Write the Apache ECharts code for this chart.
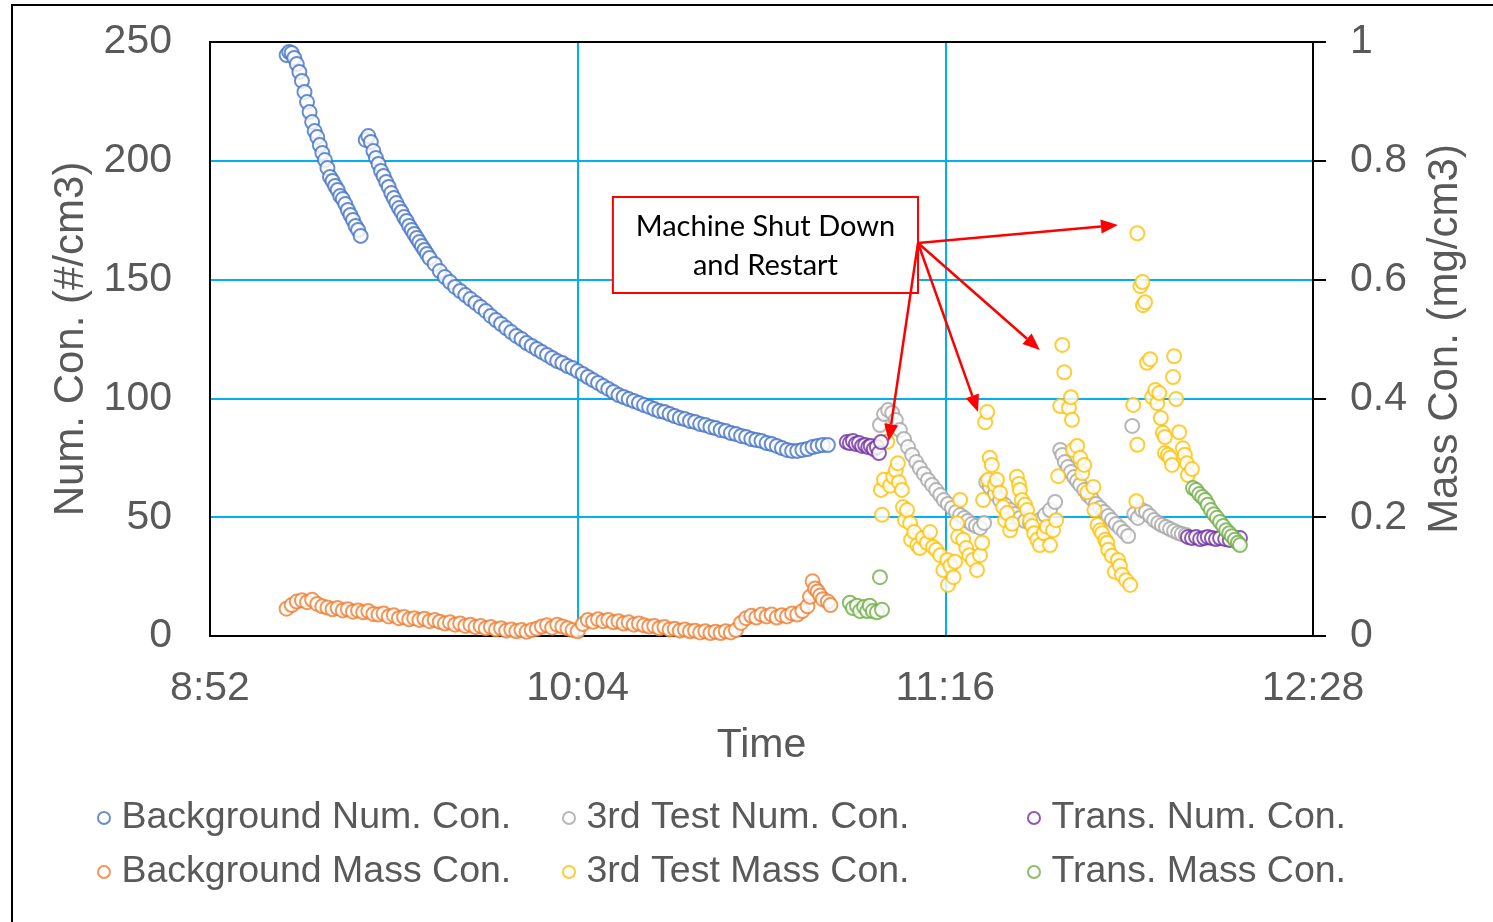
<!DOCTYPE html>
<html><head><meta charset="utf-8">
<script src="https://cdn.jsdelivr.net/npm/echarts@6/dist/echarts.min.js"></script>
<style>html,body{margin:0;padding:0;background:#fff}#c{width:1493px;height:922px}</style>
</head><body><div id="c"></div>
<script>
// time values are minutes after midnight
const X_MIN = 532, X_MAX = 748, X_STEP = 72;   // 8:52 .. 12:28
const LEFT_MAX = 250, LEFT_STEP = 50;
const RIGHT_MAX = 1, RIGHT_STEP = 0.2;

const names = ['Background Num. Con.','Background Mass Con.','3rd Test Num. Con.','3rd Test Mass Con.','Trans. Num. Con.','Trans. Mass Con.'];
const colors = ['#4472C4','#ED7D31','#A5A5A5','#FFC000','#7030A0','#70AD47'];

const bgNum = [
[547,244.5],[547.5,245.8],[548,245.4],[548.5,243.3],[549,240.7],[549.5,237.4],[550,233.6],[550.5,229.0],[551,224.7],[551.5,220.5],
[552,216.3],[552.5,212.5],[553,210.0],[553.5,206.6],[554,203.3],[554.5,200.3],[555,197.0],[555.5,193.2],[556,191.5],[556.5,189.4],
[557,187.7],[557.5,185.2],[558,183.9],[558.5,181.8],[559,179.3],[559.5,177.2],[560,175.1],[560.5,172.6],[561,170.9],[561.5,168.4],
[562.5,208.8],[563,210.4],[563.5,207.9],[564,204.1],[564.5,201.2],[565,198.7],[565.5,195.7],[566,193.6],[566.5,191.1],[567,189.0],
[567.5,186.4],[568,184.3],[568.5,182.2],[569,180.1],[569.5,178.5],[570,176.3],[570.5,174.7],[571,172.6],[571.5,170.9],[572,169.2],
[572.5,167.5],[573,165.8],[573.5,164.1],[574,162.5],[574.5,160.8],[575,159.1],[576,156.6],[577,153.6],[578,151.1],[579,149.0],
[580,146.9],[581,145.2],[582,143.5],[583,141.8],[584,140.2],[585,138.5],[586,136.8],[587,134.7],[588,133.0],[589,131.3],
[590,129.6],[591,127.9],[592,126.3],[593,125.0],[594,123.3],[595,122.1],[596,120.8],[597,119.5],[598,118.3],[599,117.0],
[600,115.7],[601,114.9],[602,113.6],[603,112.8],[604,111.5],[605,110.3],[606,109.0],[607,107.7],[608,106.5],[609,105.2],
[610,104.0],[611,102.7],[612,101.4],[613,100.6],[614,99.7],[615,98.9],[616,98.1],[617,97.2],[618,96.4],[619,95.5],
[620,94.7],[621,94.3],[622,93.4],[623,92.6],[624,91.8],[625,91.3],[626,90.5],[627,90.1],[628,89.2],[629,88.8],
[630,88.0],[631,87.5],[632,86.7],[633,86.3],[634,85.4],[635,85.0],[636,84.2],[637,83.8],[638,82.9],[639,82.5],
[640,82.1],[641,81.2],[642,80.8],[643,80.0],[644,79.1],[645,78.3],[646,77.9],[647,77.9],[648,78.3],[649,78.7],
[650,79.5],[651,80.0],[652,80.4],[653,80.4]
];

const bgMass = [
[547,0.046],[548,0.052],[549,0.058],[550,0.060],[551,0.057],[552,0.061],[553,0.054],[554,0.050],[555,0.048],[556,0.045],
[557,0.047],[558,0.043],[559,0.045],[560,0.041],[561,0.043],[562,0.040],[563,0.042],[564,0.037],[565,0.036],[566,0.038],
[567,0.033],[568,0.035],[569,0.030],[570,0.032],[571,0.028],[572,0.030],[573,0.027],[574,0.029],[575,0.025],[576,0.027],
[577,0.024],[578,0.021],[579,0.023],[580,0.019],[581,0.021],[582,0.017],[583,0.019],[584,0.015],[585,0.017],[586,0.013],
[587,0.015],[588,0.011],[589,0.013],[590,0.009],[591,0.011],[592,0.008],[593,0.010],[594,0.007],[595,0.010],[596,0.012],
[597,0.016],[598,0.018],[599,0.014],[600,0.019],[601,0.016],[602,0.013],[603,0.010],[604,0.008],[605,0.020],[606,0.027],
[607,0.024],[608,0.028],[609,0.025],[610,0.027],[611,0.023],[612,0.025],[613,0.021],[614,0.023],[615,0.019],[616,0.021],
[617,0.018],[618,0.016],[619,0.017],[620,0.013],[621,0.015],[622,0.011],[623,0.012],[624,0.009],[625,0.011],[626,0.008],
[627,0.009],[628,0.006],[629,0.008],[630,0.005],[631,0.007],[632,0.005],[633,0.008],[634,0.006],[635,0.010],[636,0.022],
[637,0.030],[638,0.034],[639,0.031],[640,0.036],[641,0.033],[642,0.036],[643,0.031],[644,0.035],[645,0.033],[646,0.038],
[647,0.036],[648,0.042],[649,0.050],[649.5,0.066],[650,0.092],[650.5,0.080],[651,0.075],[651.5,0.068],[652,0.062],[653,0.058],[653.5,0.052]
];

const testNum = [
[663.2,88.8],[664.0,93.4],[664.8,95.1],[665.6,93.9],[666.3,90.9],[667.1,86.7],[667.9,82.9],[668.7,79.5],[669.5,76.2],[670.3,73.2],
[671.0,70.7],[671.8,68.2],[672.6,65.7],[673.4,63.6],[674.2,61.4],[675.0,59.3],[675.7,57.2],[676.5,55.6],[677.3,53.9],[678.1,52.2],
[678.9,50.9],[679.7,49.7],[680.4,48.4],[681.2,47.1],[682.0,46.3],[682.8,45.5],[683.6,47.6],
[684.0,64.8],[684.7,62.7],[685.7,59.8],[686.7,57.2],[687.7,55.1],[688.7,53.0],[689.6,51.3],[690.6,49.7],[691.6,48.4],[692.6,47.6],
[693.6,47.6],[694.5,48.8],[695.5,50.9],[696.5,53.0],[697.5,56.4],
[698.5,78.3],[698.9,76.2],[699.4,73.2],[700.0,71.1],[700.6,69.0],[701.2,66.9],[701.8,65.2],[702.4,63.6],[703.2,61.4],[703.9,59.3],
[704.7,57.7],[705.5,55.6],[706.3,53.9],[707.1,52.2],[707.9,50.5],[708.6,48.8],[709.4,47.1],[710.2,45.5],[711.0,43.8],[711.8,42.1],
[712.6,88.4],[713.0,51.3],[713.7,49.7],[714.5,53.0],[715.3,52.2],[716.1,50.5],[716.9,48.8],[717.7,47.6],[718.4,46.7],[719.2,45.9],
[720.0,45.0],[720.8,44.2],[721.6,43.4],[722.3,42.9],[723.1,42.5]
];

const testMass = [
[663.4,0.246],[663.6,0.204],[664.0,0.263],[664.6,0.327],[665.2,0.253],[665.8,0.268],[666.3,0.279],[666.7,0.291],[666.9,0.259],[667.5,0.246],
[667.7,0.217],[668.1,0.195],[668.5,0.212],[669.1,0.190],[669.3,0.162],[669.9,0.175],[670.5,0.153],[671.0,0.148],[671.6,0.165],[672.4,0.157],
[673.0,0.175],[673.6,0.150],[674.2,0.145],[675.0,0.136],[675.6,0.111],[676.4,0.128],[676.5,0.086],[677.0,0.118],[677.6,0.099],[677.9,0.125],
[678.3,0.190],[678.5,0.167],[678.9,0.229],[679.5,0.162],[680.1,0.148],[680.7,0.136],[681.4,0.128],[682.2,0.111],[682.8,0.136],[683.2,0.157],
[683.4,0.229],[683.8,0.360],[684.2,0.377],[684.4,0.263],[684.7,0.300],[685.1,0.288],[685.7,0.254],[686.1,0.263],[686.7,0.241],[687.3,0.217],
[687.7,0.195],[688.1,0.207],[688.7,0.178],[689.1,0.189],[690.0,0.268],[690.4,0.256],[690.6,0.246],[691.0,0.229],[691.6,0.221],[692.0,0.212],
[692.6,0.195],[693.0,0.185],[693.4,0.173],[694.0,0.162],[694.5,0.153],[695.3,0.173],[695.9,0.184],[696.5,0.153],[697.1,0.178],[697.7,0.195],
[698.1,0.269],[698.5,0.387],[698.9,0.490],[699.3,0.444],[700.2,0.384],[700.6,0.402],[700.8,0.364],[701.0,0.313],[701.8,0.320],[702.4,0.300],
[702.8,0.274],[703.2,0.288],[703.8,0.242],[705.0,0.251],[705.2,0.212],[705.8,0.187],[706.3,0.178],[706.7,0.173],[707.3,0.162],[707.7,0.157],
[707.9,0.145],[708.6,0.135],[709.2,0.108],[709.8,0.128],[710.2,0.118],[710.6,0.103],[711.4,0.094],[712.2,0.086],[712.8,0.389],[713.4,0.227],
[713.6,0.322],[713.6,0.678],[714.2,0.589],[714.6,0.596],[714.7,0.557],[715.1,0.562],[715.5,0.460],[716.1,0.466],[716.5,0.402],[717.1,0.414],
[717.5,0.392],[717.9,0.409],[718.2,0.367],[718.6,0.342],[719.0,0.335],[719.0,0.308],[719.6,0.305],[720.0,0.300],[720.4,0.288],[720.6,0.436],
[720.8,0.471],[721.2,0.399],[721.8,0.343],[722.5,0.316],[722.9,0.305],[723.3,0.291],[723.5,0.271],[724.3,0.281]
];

const transNum = [
[656.7,81.6],[657.3,81.2],[657.9,82.1],[658.5,80.8],[659.1,81.2],[659.7,80.0],[660.3,80.4],[660.9,79.5],[661.4,80.0],[662.0,78.7],
[662.6,79.5],[663.0,77.0],[663.4,81.6],
[723.5,41.7],[724.3,41.2],[725.1,41.7],[725.9,40.8],[726.7,41.2],[727.4,41.7],[728.2,41.2],[729.0,40.8],[729.8,41.2],[730.8,40.8],
[731.7,40.4],[732.7,41.2],[733.7,41.2]
];

const transMass = [
[657.3,0.056],[657.9,0.047],[658.7,0.051],[659.3,0.042],[660.1,0.049],[660.7,0.042],[661.2,0.051],[661.8,0.042],[662.6,0.040],[663.2,0.099],[663.6,0.044],
[724.5,0.249],[725.1,0.246],[725.7,0.239],[726.3,0.234],[726.9,0.229],[727.4,0.221],[728.0,0.212],[728.6,0.205],[729.2,0.199],[729.8,0.192],
[730.4,0.185],[731.0,0.178],[731.6,0.173],[732.1,0.168],[732.7,0.162],[733.3,0.157],[733.7,0.153]
];

// annotation anchors in data units (time, left-axis value)
const noteLines = ['Machine Shut Down','and Restart'];
const noteBox = {t0:610.9, t1:670.65, v0:184.8, v1:144.4};
const arrowFrom = [670.65,165.4];
const arrowTips = [[709.8,173.0],[664.9,82.0],[682.4,94.3],[694.5,120.4]];

const seriesData = [bgNum, bgMass, testNum, testMass, transNum, transMass];
const yIdx = [0,1,0,1,0,1];

const FONT = 'Liberation Sans';
const GREY = '#595959';
const GRIDC = '#00B0F0';

function fmtTime(v){const h=Math.floor(v/60+1e-9);const m=Math.round(v-h*60);return h+':'+String(m).padStart(2,'0');}

const chart = echarts.init(document.getElementById('c'));
const legendCol = (items, left) => ({
  data: items, orient:'vertical', left:left, top:793, itemGap:14,
  itemWidth:25, itemHeight:12, selectedMode:false,
  textStyle:{fontFamily:FONT, fontSize:37.5, color:GREY, lineHeight:40}
});
chart.setOption({
  animation:false,
  backgroundColor:'#fff',
  grid:{left:210,right:180,top:42,bottom:286,show:true,borderColor:'#000',borderWidth:2,backgroundColor:'transparent'},
  legend:[
    legendCol([names[0],names[1]], 92),
    legendCol([names[2],names[3]], 557),
    legendCol([names[4],names[5]], 1022)
  ],
  xAxis:{type:'value',min:X_MIN,max:X_MAX,interval:X_STEP,
    name:'Time',nameLocation:'middle',nameGap:89,
    nameTextStyle:{fontFamily:FONT,fontSize:41,color:GREY},
    axisLine:{show:true,lineStyle:{color:'#000',width:2}},
    axisTick:{show:false},
    axisLabel:{formatter:fmtTime,fontFamily:FONT,fontSize:41,color:GREY,margin:32},
    splitLine:{show:true,lineStyle:{color:GRIDC,width:2}}
  },
  yAxis:[
    {type:'value',min:0,max:LEFT_MAX,interval:LEFT_STEP,position:'left',
     name:'Num. Con. (#/cm3)',nameLocation:'middle',nameGap:114,
     nameTextStyle:{fontFamily:FONT,fontSize:42,color:GREY},
     axisLine:{show:true,lineStyle:{color:'#000',width:2}},
     axisTick:{show:false},
     axisLabel:{fontFamily:FONT,fontSize:41,color:GREY,margin:38},
     splitLine:{show:true,lineStyle:{color:GRIDC,width:2}}
    },
    {type:'value',min:0,max:RIGHT_MAX,interval:RIGHT_STEP,position:'right',
     name:'Mass Con. (mg/cm3)',nameLocation:'middle',nameGap:111,
     nameTextStyle:{fontFamily:FONT,fontSize:42,color:GREY},
     axisLine:{show:true,lineStyle:{color:'#000',width:2}},
     axisTick:{show:true,length:13,inside:false,lineStyle:{color:'#000',width:2}},
     axisLabel:{fontFamily:FONT,fontSize:41,color:GREY,margin:37},
     splitLine:{show:false}
    }
  ],
  series: names.map((n,i)=>({
    name:n,type:'scatter',yAxisIndex:yIdx[i],data:seriesData[i],
    symbol:'circle',symbolSize:14,
    itemStyle:{color:'#fff',borderColor:colors[i],borderWidth:2},
    emphasis:{disabled:true},z:2+i
  }))
});

function px(p){return chart.convertToPixel({xAxisIndex:0,yAxisIndex:0},p);}
const g = [];
g.push({type:'rect',shape:{x:12,y:5,width:1600,height:1000},style:{fill:'none',stroke:'#000',lineWidth:2},silent:true,z:0});
const tl = px([X_MIN,LEFT_MAX]), tr = px([X_MAX,LEFT_MAX]);
g.push({type:'line',shape:{x1:tl[0],y1:tl[1],x2:tr[0],y2:tr[1]},style:{stroke:'#000',lineWidth:2},silent:true,z:1});
const b0 = px([noteBox.t0,noteBox.v0]), b1 = px([noteBox.t1,noteBox.v1]);
g.push({type:'rect',shape:{x:b0[0],y:b0[1],width:b1[0]-b0[0],height:b1[1]-b0[1]},style:{fill:'#fff',stroke:'#FF0000',lineWidth:2},z:100});
const cx=(b0[0]+b1[0])/2, cy=(b0[1]+b1[1])/2;
g.push({type:'text',x:cx,y:cy-18,style:{text:noteLines[0],fill:'#000',font:'29px Lato',align:'center',verticalAlign:'middle'},z:101});
g.push({type:'text',x:cx,y:cy+21,style:{text:noteLines[1],fill:'#000',font:'29px Lato',align:'center',verticalAlign:'middle'},z:101});
const o = px(arrowFrom);
arrowTips.forEach(tp=>{
  const t = px(tp);
  const dx=t[0]-o[0], dy=t[1]-o[1], L=Math.hypot(dx,dy), ux=dx/L, uy=dy/L;
  const hl=17, hw=7;
  const bx=t[0]-ux*hl, by=t[1]-uy*hl;
  g.push({type:'line',shape:{x1:o[0],y1:o[1],x2:bx,y2:by},style:{stroke:'#FF0000',lineWidth:2.5},z:102});
  g.push({type:'polygon',shape:{points:[[t[0],t[1]],[bx-uy*hw,by+ux*hw],[bx+uy*hw,by-ux*hw]]},style:{fill:'#FF0000'},z:102});
});
chart.setOption({graphic:g});
</script></body></html>
